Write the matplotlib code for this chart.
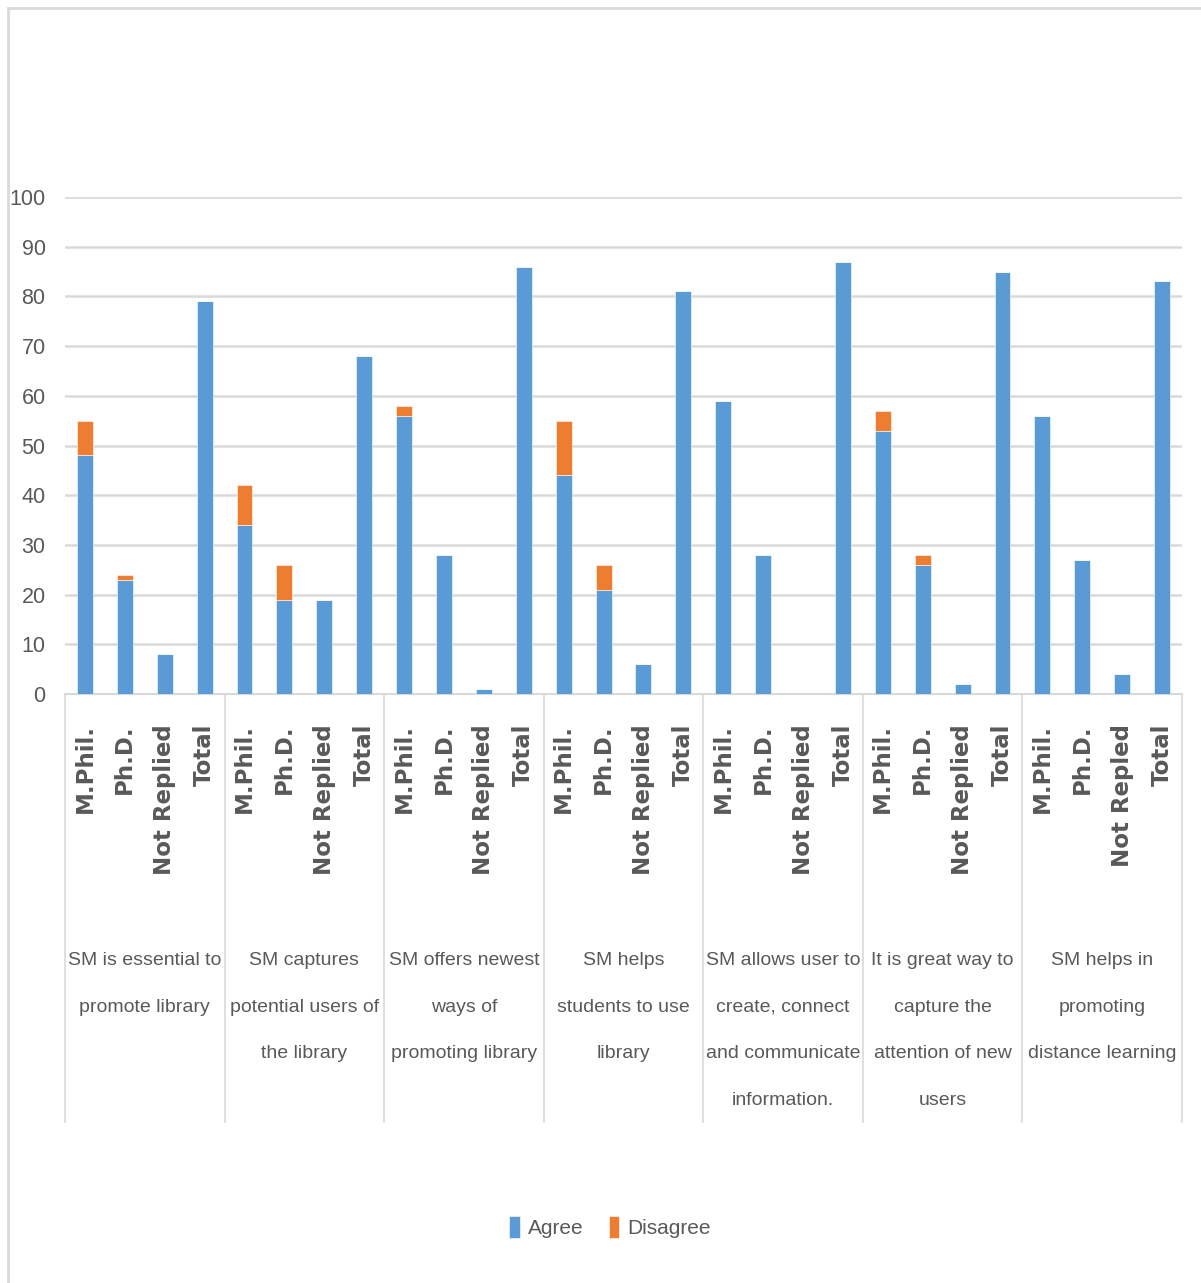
import numpy as np
import matplotlib.pyplot as plt
from matplotlib.patches import Rectangle
from matplotlib.transforms import blended_transform_factory

# data
groups = ['SM is essential to\npromote library',
          'SM captures\npotential users of\nthe library',
          'SM offers newest\nways of\npromoting library',
          'SM helps\nstudents to use\nlibrary',
          'SM allows user to\ncreate, connect\nand communicate\ninformation.',
          'It is great way to\ncapture the\nattention of new\nusers',
          'SM helps in\npromoting\ndistance learning']
subs = ['M.Phil.', 'Ph.D.', 'Not Replied', 'Total']
sub_last = ['M.Phil.', 'Ph.D.', 'Not Repled', 'Total']

agree = [48, 23, 8, 79,
         34, 19, 19, 68,
         56, 28, 1, 86,
         44, 21, 6, 81,
         59, 28, 0, 87,
         53, 26, 2, 85,
         56, 27, 4, 83]
disagree = [7, 1, 0, 0,
            8, 7, 0, 0,
            2, 0, 0, 0,
            11, 5, 0, 0,
            0, 0, 0, 0,
            4, 2, 0, 0,
            0, 0, 0, 0]

blue = '#5B9BD5'
orange = '#ED7D31'
grid_c = '#d9d9d9'
txt_c = '#595959'
narrow = ['Liberation Sans', 'DejaVu Sans']

W, H = 1201, 1283
fig = plt.figure(figsize=(W / 100, H / 100), dpi=100)
fig.patches.append(Rectangle((8 / W, -0.01), 1.1, 1 - 8 / H + 0.01, transform=fig.transFigure,
                             fill=False, edgecolor=grid_c, linewidth=2))

ax_l, ax_r, ax_t, ax_b = 65, 1182, 197, 694
ax = fig.add_axes([ax_l / W, 1 - ax_b / H, (ax_r - ax_l) / W, (ax_b - ax_t) / H])

x = np.arange(len(agree))
ax.bar(x, agree, width=0.4, color=blue, edgecolor='white', linewidth=0.4, label='Agree', zorder=3)
ax.bar(x, disagree, width=0.4, bottom=agree, color=orange, edgecolor='white', linewidth=0.4,
       label='Disagree', zorder=3)

ax.set_xlim(-0.5, len(agree) - 0.5)
ax.set_ylim(0, 100)
ax.set_yticks(range(0, 101, 10))
ax.yaxis.grid(True, color=grid_c, linewidth=1.8)
ax.set_axisbelow(True)
for s in ['top', 'right', 'left']:
    ax.spines[s].set_visible(False)
ax.spines['bottom'].set_color(grid_c)
ax.spines['bottom'].set_linewidth(1.5)
ax.tick_params(axis='both', length=0)
ax.tick_params(axis='y', pad=14)
ax.set_xticks([])
for lab in ax.get_yticklabels():
    lab.set_family(narrow)
    lab.set_fontsize(15.5)
    lab.set_color(txt_c)

# category separators
trans = blended_transform_factory(ax.transData, ax.transAxes)
sep_bottom = (ax_b - 1122) / (ax_b - ax_t)
for k in range(len(groups) + 1):
    xs = k * 4 - 0.5
    ax.plot([xs, xs], [0, sep_bottom], transform=trans, color=grid_c, linewidth=1.2,
            clip_on=False)

# sub labels
sub_top = (ax_b - 724) / (ax_b - ax_t)
for g in range(len(groups)):
    names = sub_last if g == len(groups) - 1 else subs
    for j, nm in enumerate(names):
        ax.text(g * 4 + j, sub_top, nm, transform=trans, rotation=90, ha='center', va='top',
                fontsize=16.5, fontweight='semibold', color=txt_c)

# group labels
grp_top = (ax_b - 952) / (ax_b - ax_t)
for g, name in enumerate(groups):
    ax.text(g * 4 + 1.5, grp_top, name, transform=trans, ha='center', va='top',
            fontsize=14, family=narrow, color=txt_c, linespacing=3.27)

leg = fig.legend(loc='center', bbox_to_anchor=(610 / W, 1 - 1227 / H), ncol=2, frameon=False,
                 handlelength=0.5, handleheight=1.3, handletextpad=0.4,
                 columnspacing=1.2, prop={'family': narrow, 'size': 15})
for t in leg.get_texts():
    t.set_color(txt_c)

fig.savefig('out.png', dpi=100)
